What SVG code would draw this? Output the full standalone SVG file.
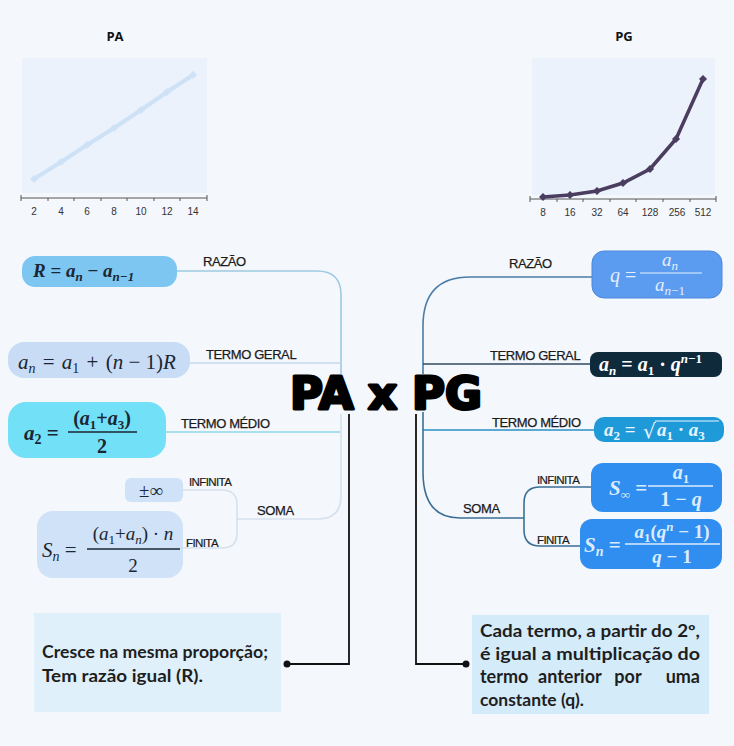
<svg xmlns="http://www.w3.org/2000/svg" width="734" height="746" viewBox="0 0 734 746">
<defs>
<style>
.lbl{font-family:"Liberation Sans",Arial,sans-serif;font-size:13px;fill:#1a1a1a;letter-spacing:-0.4px;stroke:#1a1a1a;stroke-width:0.25}
.lbls{font-family:"Liberation Sans",Arial,sans-serif;font-size:11.5px;fill:#1a1a1a;letter-spacing:-0.6px;stroke:#1a1a1a;stroke-width:0.2}
.ax{font-family:"Liberation Sans",Arial,sans-serif;font-size:10px;fill:#333}
.ttl{font-family:"Open Sans","Liberation Sans",sans-serif;font-size:13px;font-weight:bold;fill:#111}
.m{font-family:"Liberation Serif","DejaVu Serif",serif;font-style:italic}
.b{font-weight:bold}
.r{font-style:normal}
.big{font-family:"DejaVu Sans","Liberation Sans",sans-serif;font-weight:bold;font-size:45px;fill:#000;stroke:#000;stroke-width:3;stroke-linejoin:round}
.note{font-family:"Lato","Open Sans",sans-serif;font-size:16.5px;font-weight:bold;fill:#1e1e1e}
.note2{font-family:"Lato","Open Sans",sans-serif;font-size:18px;font-weight:bold;fill:#1e1e1e}
.conn{fill:none;stroke-width:1.6}
</style>
<marker id="dA" viewBox="-5 -5 10 10" markerWidth="9" markerHeight="9" markerUnits="userSpaceOnUse"><path d="M0,-4.5 L4.5,0 L0,4.5 L-4.5,0Z" fill="#cde2f6"/></marker>
<marker id="dG" viewBox="-5 -5 10 10" markerWidth="9" markerHeight="9" markerUnits="userSpaceOnUse"><path d="M0,-4.5 L4.5,0 L0,4.5 L-4.5,0Z" fill="#4b3d60"/></marker>
</defs>
<rect x="0" y="0" width="734" height="746" fill="#f4f7fc"/>

<g id="chart-pa">
<text class="ttl" x="115" y="41" text-anchor="middle">PA</text>
<rect x="22" y="58" width="185" height="135" fill="#ebf2fc"/>
<path d="M21,198 H207 M21,195 V201 M48,198 V201 M74,198 V201 M101,198 V201 M127,198 V201 M154,198 V201 M180,198 V201 M207,195 V201" stroke="#555" stroke-width="1" fill="none"/>
<polyline points="34,179 61,162 87,145 114,128 141,110 167,92 193,75" fill="none" stroke="#cde2f6" stroke-width="4" marker-start="url(#dA)" marker-mid="url(#dA)" marker-end="url(#dA)"/>
<g class="ax" text-anchor="middle"><text x="34" y="215">2</text><text x="61" y="215">4</text><text x="87" y="215">6</text><text x="114" y="215">8</text><text x="141" y="215">10</text><text x="167" y="215">12</text><text x="193" y="215">14</text></g>
</g>

<g id="chart-pg">
<text class="ttl" x="624" y="41" text-anchor="middle">PG</text>
<rect x="532" y="58" width="183" height="137" fill="#ebf2fc"/>
<path d="M530,199 H716 M530,196 V202 M557,199 V202 M583,199 V202 M610,199 V202 M636,199 V202 M663,199 V202 M690,199 V202 M716,196 V202" stroke="#555" stroke-width="1" fill="none"/>
<polyline points="543,197 570,195 597,191 623,183 650,169 676,139 703,79" fill="none" stroke="#4b3d60" stroke-width="3.5" marker-start="url(#dG)" marker-mid="url(#dG)" marker-end="url(#dG)"/>
<g class="ax" text-anchor="middle"><text x="543" y="216">8</text><text x="570" y="216">16</text><text x="597" y="216">32</text><text x="623" y="216">64</text><text x="650" y="216">128</text><text x="677" y="216">256</text><text x="703" y="216">512</text></g>
</g>

<g id="connectors">
<path class="conn" d="M177,271 H317 Q341,271 341,295 V374" stroke="#9ccbe0"/>
<path class="conn" d="M190,363 H341" stroke="#c5d8ee"/>
<path class="conn" d="M166,432 H341" stroke="#8fd9ea"/>
<path class="conn" d="M341,414 V496 Q341,519 318,519 H237" stroke="#d6e1ed"/>
<path class="conn" d="M183,490 H222 Q237,490 237,505 V533 Q237,548 222,548 H183" stroke="#d6e1ed"/>
<path class="conn" d="M592,277 H470 Q423,277 423,326 V374" stroke="#4a7ca6"/>
<path class="conn" d="M423,364 H590" stroke="#2f4a60"/>
<path class="conn" d="M423,430 H595" stroke="#2b8fc6"/>
<path class="conn" d="M423,412 V472 Q423,518 460,518 H524" stroke="#3b6f94"/>
<path class="conn" d="M591,487 H540 Q524,487 524,503 V530 Q524,546 540,546 H580" stroke="#3b6f94"/>
<path d="M349,414 V664 H287" fill="none" stroke="#111" stroke-width="1.8"/>
<circle cx="287" cy="664" r="3.5" fill="#111"/>
<path d="M416,414 V664 H466" fill="none" stroke="#111" stroke-width="1.8"/>
<circle cx="466" cy="664" r="3.5" fill="#111"/>
<text class="lbl" x="203" y="266">RAZÃO</text>
<text class="lbl" x="206" y="359">TERMO GERAL</text>
<text class="lbl" x="181" y="428">TERMO MÉDIO</text>
<text class="lbl" x="257" y="515">SOMA</text>
<text class="lbls" x="189" y="486">INFINITA</text>
<text class="lbls" x="186" y="547">FINITA</text>
<text class="lbl" x="509" y="268">RAZÃO</text>
<text class="lbl" x="490" y="360">TERMO GERAL</text>
<text class="lbl" x="492" y="427">TERMO MÉDIO</text>
<text class="lbl" x="463" y="513">SOMA</text>
<text class="lbls" x="537" y="484">INFINITA</text>
<text class="lbls" x="537" y="544">FINITA</text>
</g>

<g id="title">
<text class="big" x="290" y="409">PA</text>
<text class="big" x="368" y="409">x</text>
<text class="big" x="412" y="409">PG</text>
</g>

<g id="pa-razao">
<rect x="22" y="256" width="155" height="31" rx="13" fill="#7dc6f2"/>
<text class="m b" x="33" y="277" font-size="19" fill="#1b2633">R<tspan class="r"> = </tspan>a<tspan dy="4" font-size="13">n</tspan><tspan dy="-4" class="r"> − </tspan>a<tspan dy="4" font-size="13">n−1</tspan></text>
</g>

<g id="pa-termo-geral">
<rect x="8" y="342" width="182" height="36" rx="16" fill="#c9dcf5"/>
<text class="m" x="18" y="369" font-size="21" fill="#1b2633">a<tspan dy="4" font-size="14">n</tspan><tspan dy="-4" class="r" dx="2"> = </tspan><tspan dx="2">a</tspan><tspan dy="4" font-size="14" class="r">1</tspan><tspan dy="-4" class="r" dx="2"> + </tspan><tspan class="r" dx="2">(</tspan>n<tspan class="r"> − 1)</tspan>R</text>
</g>

<g id="pa-termo-medio">
<rect x="8" y="402" width="158" height="56" rx="18" fill="#72e0f7"/>
<text class="m b" x="24" y="440" font-size="21" fill="#1b2633">a<tspan dy="4" font-size="14" class="r">2</tspan><tspan dy="-4" class="r"> =</tspan></text>
<text class="m b" x="102" y="425" font-size="20" text-anchor="middle" fill="#1b2633"><tspan class="r">(</tspan>a<tspan dy="4" font-size="13" class="r">1</tspan><tspan dy="-4" class="r">+</tspan>a<tspan dy="4" font-size="13" class="r">3</tspan><tspan dy="-4" class="r">)</tspan></text>
<line x1="68" y1="432" x2="137" y2="432" stroke="#1b2633" stroke-width="1.5"/>
<text class="m b r" x="102" y="453" font-size="20" text-anchor="middle" fill="#1b2633">2</text>
</g>

<g id="pa-soma-infinita">
<rect x="125" y="478" width="58" height="24" rx="6" fill="#cfe2f7"/>
<text class="m r" x="151" y="497" font-size="19" text-anchor="middle" fill="#1b2633">±∞</text>
</g>

<g id="pa-soma-finita">
<rect x="37" y="511" width="146" height="67" rx="16" fill="#cfe2f7"/>
<text class="m" x="42" y="557" font-size="21" fill="#1b2633">S<tspan dy="4" font-size="14">n</tspan><tspan dy="-4" class="r"> =</tspan></text>
<text class="m" x="133" y="540" font-size="19" text-anchor="middle" fill="#1b2633"><tspan class="r">(</tspan>a<tspan dy="4" font-size="13" class="r">1</tspan><tspan dy="-4" class="r">+</tspan>a<tspan dy="4" font-size="13">n</tspan><tspan dy="-4" class="r">) · </tspan>n</text>
<line x1="87" y1="549" x2="180" y2="549" stroke="#1b2633" stroke-width="1.3"/>
<text class="m r" x="133" y="572" font-size="19" text-anchor="middle" fill="#1b2633">2</text>
</g>

<g id="pg-razao">
<rect x="592" y="251" width="130" height="47" rx="12" fill="#5c9cf0" stroke="#4a88dc" stroke-width="1"/>
<text class="m" x="610" y="282" font-size="20" fill="#e3eeff">q<tspan class="r"> =</tspan></text>
<text class="m" x="670" y="266" font-size="19" text-anchor="middle" fill="#e3eeff">a<tspan dy="4" font-size="13">n</tspan></text>
<line x1="640" y1="273" x2="702" y2="273" stroke="#e3eeff" stroke-width="1.2"/>
<text class="m" x="670" y="291" font-size="19" text-anchor="middle" fill="#e3eeff">a<tspan dy="4" font-size="13">n<tspan class="r">−1</tspan></tspan></text>
</g>

<g id="pg-termo-geral">
<rect x="590" y="352" width="132" height="25" rx="8" fill="#0e2a3b"/>
<text class="m b" x="599" y="371" font-size="20" fill="#ffffff">a<tspan dy="4" font-size="13">n</tspan><tspan dy="-4" class="r"> = </tspan>a<tspan dy="4" font-size="13" class="r">1</tspan><tspan dy="-4" class="r"> · </tspan>q<tspan dy="-8" font-size="13">n<tspan class="r">−1</tspan></tspan></text>
</g>

<g id="pg-termo-medio">
<rect x="594" y="417" width="130" height="25" rx="10" fill="#1f9ad8"/>
<text class="m b" x="604" y="436" font-size="19" fill="#e8f4ff">a<tspan dy="4" font-size="13" class="r">2</tspan><tspan dy="-4" class="r"> = </tspan></text>
<text class="r" x="643" y="438" font-size="20" font-family="DejaVu Sans,sans-serif" fill="#e8f4ff">√</text>
<line x1="655" y1="421" x2="719" y2="421" stroke="#e8f4ff" stroke-width="1.2"/>
<text class="m b" x="657" y="436" font-size="19" fill="#e8f4ff">a<tspan dy="4" font-size="13" class="r">1</tspan><tspan dy="-4" class="r"> · </tspan>a<tspan dy="4" font-size="13" class="r">3</tspan></text>
</g>

<g id="pg-soma-infinita">
<rect x="591" y="463" width="131" height="49" rx="12" fill="#2f8ef0"/>
<text class="m b" x="609" y="495" font-size="21" fill="#dcecff">S<tspan dy="4" font-size="13" class="r">∞</tspan><tspan dy="-4" class="r"> =</tspan></text>
<text class="m b" x="681" y="479" font-size="20" text-anchor="middle" fill="#dcecff">a<tspan dy="4" font-size="13" class="r">1</tspan></text>
<line x1="648" y1="486" x2="713" y2="486" stroke="#dcecff" stroke-width="1.3"/>
<text class="m b" x="681" y="506" font-size="20" text-anchor="middle" fill="#dcecff"><tspan class="r">1 − </tspan>q</text>
</g>

<g id="pg-soma-finita">
<rect x="580" y="519" width="142" height="50" rx="12" fill="#2f8ef0"/>
<text class="m b" x="584" y="552" font-size="21" fill="#dcecff">S<tspan dy="4" font-size="14">n</tspan><tspan dy="-4" class="r"> =</tspan></text>
<text class="m b" x="672" y="538" font-size="19" text-anchor="middle" fill="#dcecff">a<tspan dy="4" font-size="13" class="r">1</tspan><tspan dy="-4" class="r">(</tspan>q<tspan dy="-7" font-size="13">n</tspan><tspan dy="7" class="r"> − 1)</tspan></text>
<line x1="625" y1="544" x2="720" y2="544" stroke="#dcecff" stroke-width="1.3"/>
<text class="m b" x="672" y="563" font-size="19" text-anchor="middle" fill="#dcecff">q<tspan class="r"> − 1</tspan></text>
</g>

<g id="pa-note">
<rect x="34" y="613" width="247" height="99" fill="#dff0fb"/>
<text class="note" x="42" y="658" textLength="226" lengthAdjust="spacingAndGlyphs">Cresce na mesma proporção;</text>
<text class="note" x="42" y="682" textLength="161" lengthAdjust="spacingAndGlyphs">Tem razão igual  (R).</text>
</g>

<g id="pg-note">
<rect x="472" y="615" width="237" height="99" fill="#d4ebfa"/>
<text class="note" x="480" y="637" textLength="220" lengthAdjust="spacingAndGlyphs">Cada termo, a partir do 2º,</text>
<text class="note" x="480" y="660" textLength="220" lengthAdjust="spacingAndGlyphs">é igual a multiplicação do</text>
<text class="note2" x="480" y="683">termo</text>
<text class="note2" x="538" y="683">anterior</text>
<text class="note2" x="628" y="683" text-anchor="middle">por</text>
<text class="note2" x="700" y="683" text-anchor="end">uma</text>
<text class="note" x="480" y="706" textLength="104" lengthAdjust="spacingAndGlyphs">constante (q).</text>
</g>
</svg>
